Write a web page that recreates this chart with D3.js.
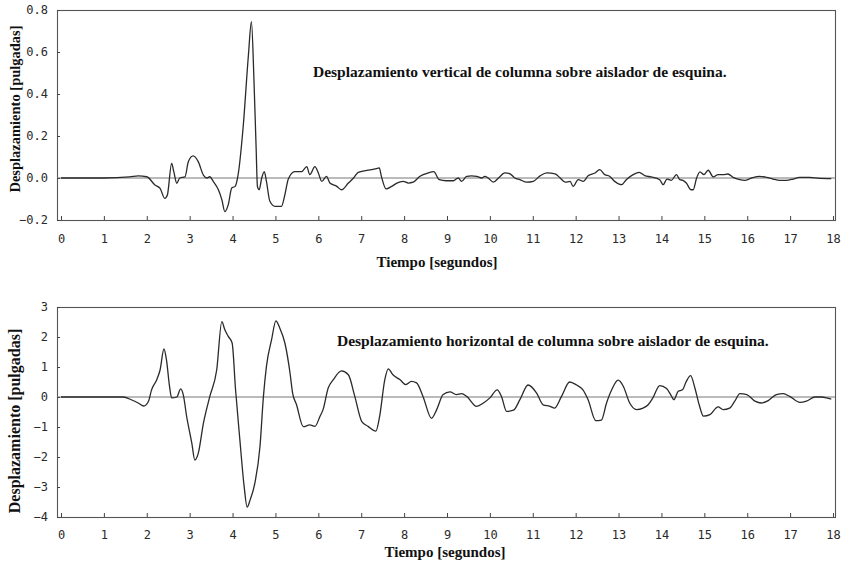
<!DOCTYPE html>
<html>
<head>
<meta charset="utf-8">
<script src="https://cdn.jsdelivr.net/npm/d3@7"></script>
<style>
  html, body { margin: 0; padding: 0; background: #fff; }
  svg { display: block; }
  .tick text { font-family: "DejaVu Sans Mono", monospace; font-size: 12px; fill: #2a2a2a; }
  .tick line { stroke: #444; }
  .ttl { font-family: "Liberation Serif", "Times New Roman", serif; font-weight: bold; fill: #111; }
</style>
</head>
<body>
<svg id="chart" width="842" height="565"></svg>
<script>
// ---- Data ----
const xTicks = [0,1,2,3,4,5,6,7,8,9,10,11,12,13,14,15,16,17,18];
const yTicksV = [-0.2, 0.0, 0.2, 0.4, 0.6, 0.8];
const yTicksH = [-4, -3, -2, -1, 0, 1, 2, 3];

const titleV = "Desplazamiento vertical de columna sobre aislador de esquina.";
const titleH = "Desplazamiento horizontal de columna sobre aislador de esquina.";
const xLabel = "Tiempo [segundos]";
const yLabel = "Desplazamiento [pulgadas]";

// Vertical displacement (inches) vs time (s)
const timeV = [
  0, 1.0, 1.6, 1.8, 2.0, 2.19, 2.31, 2.42, 2.48, 2.58,
  2.63, 2.70, 2.77, 2.89, 2.97, 3.08, 3.20, 3.32, 3.40, 3.47,
  3.55, 3.67, 3.75, 3.82, 3.90, 3.98, 4.06, 4.13, 4.25, 4.37,
  4.44, 4.50, 4.55, 4.58, 4.62, 4.68, 4.74, 4.79, 4.87, 4.99,
  5.14, 5.22, 5.30, 5.45, 5.61, 5.73, 5.80, 5.92, 6.00, 6.08,
  6.19, 6.27, 6.43, 6.54, 6.70, 6.82, 6.93, 7.13, 7.32, 7.42,
  7.47, 7.58, 7.71, 7.83, 7.98, 8.10, 8.21, 8.37, 8.56, 8.69,
  8.82, 8.98, 9.15, 9.26, 9.34, 9.46, 9.57, 9.69, 9.81, 9.88,
  9.96, 10.08, 10.20, 10.35, 10.47, 10.58, 10.70, 10.86, 11.01, 11.17,
  11.33, 11.52, 11.64, 11.76, 11.87, 11.94, 12.06, 12.18, 12.29, 12.45,
  12.56, 12.68, 12.79, 12.91, 13.07, 13.18, 13.34, 13.48, 13.61, 13.76,
  13.96, 14.04, 14.13, 14.23, 14.35, 14.43, 14.50, 14.58, 14.69, 14.74,
  14.82, 14.90, 14.99, 15.09, 15.21, 15.32, 15.44, 15.55, 15.67, 15.83,
  15.94, 16.10, 16.29, 16.45, 16.60, 16.76, 16.91, 17.07, 17.22, 17.46,
  17.69, 17.96
];
const valV = [
  0, 0, 0.005, 0.01, 0.006, -0.033, -0.049, -0.097, -0.081, 0.07,
  0.03, -0.025, 0, 0.005, 0.078, 0.105, 0.078, 0.014, 0, 0.006,
  -0.016, -0.056, -0.103, -0.16, -0.127, -0.048, -0.04, 0.016, 0.25, 0.586,
  0.744, 0.46, 0.14, -0.04, -0.056, 0, 0.03, -0.016, -0.111, -0.135,
  -0.135, -0.08, -0.005, 0.03, 0.03, 0.054, 0.016, 0.054, 0.024, -0.016,
  0.008, -0.024, -0.04, -0.056, -0.024, 0, 0.027, 0.036, 0.043, 0.048,
  0.008, -0.052, -0.04, -0.024, -0.016, -0.024, -0.02, 0.008, 0.024, 0.03,
  -0.008, -0.013, -0.013, 0, -0.016, 0.008, 0.01, 0.008, 0, 0.008,
  0, -0.02, 0, 0.024, 0.02, 0, -0.008, -0.02, -0.016, 0.01,
  0.024, 0.02, 0, -0.02, -0.016, -0.04, -0.008, -0.016, 0.011, 0.024,
  0.04, 0.016, 0.008, -0.016, -0.032, -0.008, 0.016, 0.027, 0.011, 0.005,
  -0.008, -0.032, -0.005, -0.011, 0.016, -0.008, -0.011, -0.024, -0.056, -0.056,
  0, 0.029, 0.016, 0.037, 0.005, 0.016, 0.016, 0.019, 0.003, -0.008,
  -0.011, 0, 0.008, 0.003, -0.005, -0.011, -0.011, -0.005, 0.003, 0.003,
  -0.002, -0.003
];

// Horizontal displacement (inches) vs time (s)
const timeH = [
  0, 1.0, 1.45, 1.65, 1.80, 1.93, 2.04, 2.11, 2.23, 2.31,
  2.40, 2.46, 2.53, 2.58, 2.70, 2.79, 2.85, 2.93, 3.05, 3.12,
  3.20, 3.32, 3.47, 3.63, 3.75, 3.82, 3.90, 3.99, 4.07, 4.17,
  4.27, 4.34, 4.41, 4.52, 4.64, 4.72, 4.79, 4.91, 5.01, 5.10,
  5.22, 5.34, 5.40, 5.49, 5.65, 5.80, 5.92, 6.04, 6.11, 6.23,
  6.35, 6.54, 6.70, 6.85, 7.01, 7.16, 7.34, 7.43, 7.55, 7.63,
  7.74, 7.90, 8.04, 8.17, 8.29, 8.44, 8.64, 8.76, 8.91, 9.07,
  9.22, 9.34, 9.46, 9.69, 9.85, 10.0, 10.17, 10.27, 10.39, 10.55,
  10.70, 10.89, 11.09, 11.24, 11.40, 11.51, 11.67, 11.86, 12.02, 12.17,
  12.29, 12.47, 12.60, 12.72, 12.84, 12.99, 13.11, 13.26, 13.42, 13.57,
  13.69, 13.80, 13.96, 14.12, 14.23, 14.29, 14.39, 14.49, 14.58, 14.68,
  14.78, 14.88, 14.98, 15.13, 15.32, 15.44, 15.59, 15.71, 15.83, 15.99,
  16.18, 16.33, 16.49, 16.68, 16.84, 16.99, 17.23, 17.38, 17.58, 17.74,
  17.85, 17.96
];
const valH = [
  0, 0, 0, -0.1, -0.2, -0.3, -0.14, 0.23, 0.57, 0.9,
  1.6, 1.23, 0.36, -0.03, 0, 0.27, 0.08, -0.65, -1.54, -2.1,
  -1.88, -0.88, 0.02, 0.9, 2.51, 2.24, 2.02, 1.8, 0.24, -1.42,
  -2.98, -3.67, -3.43, -2.87, -1.64, 0.02, 1.02, 1.91, 2.54, 2.3,
  1.8, 0.8, 0.13, -0.25, -0.99, -0.93, -0.98, -0.64, -0.42, 0.3,
  0.58, 0.87, 0.74, 0.02, -0.81, -0.98, -1.14, -0.64, 0.58, 0.94,
  0.74, 0.58, 0.41, 0.52, 0.47, 0.02, -0.71, -0.42, 0.08, 0.17,
  0.08, 0.11, 0.02, -0.31, -0.2, -0.03, 0.24, 0.02, -0.48, -0.44,
  -0.09, 0.4, 0.13, -0.26, -0.31, -0.37, 0.02, 0.5, 0.4, 0.24,
  -0.09, -0.79, -0.77, -0.2, 0.24, 0.56, 0.36, -0.2, -0.42, -0.37,
  -0.26, -0.03, 0.38, 0.28, 0.04, -0.09, 0.19, 0.24, 0.52, 0.71,
  0.3, -0.26, -0.64, -0.59, -0.33, -0.42, -0.37, -0.14, 0.11, 0.08,
  -0.14, -0.2, -0.12, 0.08, 0.11, 0.02, -0.18, -0.14, 0, 0,
  -0.03, -0.07
];

// ---- Drawing ----
const svg = d3.select("#chart");

function panel(cfg) {
  const g = svg.append("g");
  const x = d3.scaleLinear().domain([0, 18]).range([61, 833]);
  const y = d3.scaleLinear().domain(cfg.yDomain).range([cfg.bottom, cfg.top]);
  const boxL = 57, boxR = 835;

  // frame
  g.append("rect")
    .attr("x", boxL + 0.5).attr("y", cfg.top + 0.5)
    .attr("width", boxR - boxL).attr("height", cfg.bottom - cfg.top)
    .attr("fill", "none").attr("stroke", "#555").attr("stroke-width", 1.1);

  // zero reference line
  g.append("line")
    .attr("x1", boxL).attr("x2", boxR)
    .attr("y1", y(0)).attr("y2", y(0))
    .attr("stroke", "#777").attr("stroke-width", 1);

  // x axis
  const xa = g.append("g")
    .attr("transform", `translate(0,${cfg.bottom})`)
    .call(d3.axisBottom(x).tickValues(xTicks).tickSize(-4).tickPadding(cfg.xPad).tickFormat(d3.format("d")));
  xa.select(".domain").remove();

  // y axis
  const ya = g.append("g")
    .attr("transform", `translate(${boxL},0)`)
    .call(d3.axisLeft(y).tickValues(cfg.yTicks).tickSize(-3).tickPadding(9).tickFormat(cfg.yFmt));
  ya.select(".domain").remove();

  // curve
  const pts = cfg.times.map((t, i) => [t, cfg.vals[i]]);
  g.append("path")
    .datum(pts)
    .attr("fill", "none")
    .attr("stroke", "#2a2a2a")
    .attr("stroke-width", 1.3)
    .attr("stroke-linejoin", "round")
    .attr("d", d3.line().x(d => x(d[0])).y(d => y(d[1])).curve(d3.curveMonotoneX));

  // chart title
  g.append("text").attr("class", "ttl")
    .attr("x", cfg.titleX).attr("y", cfg.titleY)
    .attr("font-size", cfg.titleSize)
    .text(cfg.title);

  // x label
  g.append("text").attr("class", "ttl")
    .attr("x", cfg.xLabX).attr("y", cfg.xLabY)
    .attr("text-anchor", "middle").attr("font-size", 15)
    .text(xLabel);

  // y label
  g.append("text").attr("class", "ttl")
    .attr("transform", `translate(20,${cfg.yLabY}) rotate(-90)`)
    .attr("text-anchor", "middle").attr("font-size", cfg.yLabSize)
    .text(yLabel);
}

panel({
  top: 10, bottom: 220, yDomain: [-0.2, 0.8], yTicks: yTicksV, yFmt: d3.format(".1f"),
  times: timeV, vals: valV, xPad: 14,
  title: titleV, titleX: 313, titleY: 77, titleSize: 15.5,
  xLabX: 437, xLabY: 267, yLabY: 109, yLabSize: 14.5
});

panel({
  top: 307, bottom: 517, yDomain: [-4, 3], yTicks: yTicksH, yFmt: d3.format("d"),
  times: timeH, vals: valH, xPad: 13,
  title: titleH, titleX: 337, titleY: 346, titleSize: 15.5,
  xLabX: 445, xLabY: 557, yLabY: 421, yLabSize: 16
});
</script>
</body>
</html>
